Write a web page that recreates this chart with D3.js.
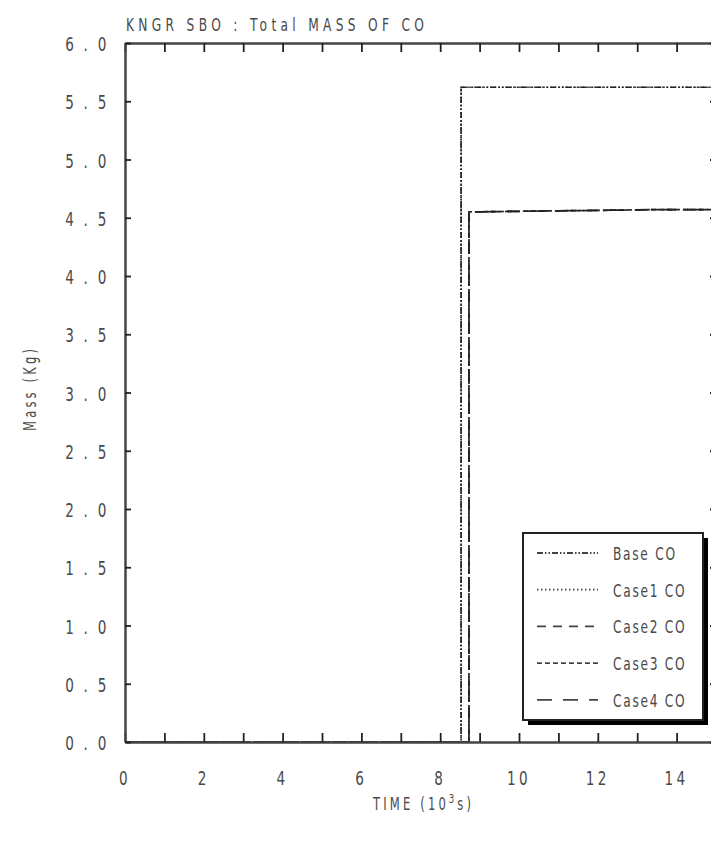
<!DOCTYPE html>
<html>
<head>
<meta charset="utf-8">
<script src="https://cdn.jsdelivr.net/npm/d3@7"></script>
<style>
  html, body { margin: 0; padding: 0; background: #fff; }
  svg { display: block; }
  text { font-family: "DejaVu Sans", "Liberation Sans", sans-serif; fill: #4a4a4a; }
</style>
</head>
<body>
<svg id="chart" width="711" height="845"></svg>
<script>
// Total mass of CO (kg) versus time (10^3 s) for each case
const seriesNames = ["Base CO", "Case1 CO", "Case2 CO", "Case3 CO", "Case4 CO"];
const baseTime  = [0, 8.53, 8.53, 15];
const baseMass  = [0, 0, 5.62, 5.62];
const case1Time = [0, 8.53, 8.53, 15];
const case1Mass = [0, 0, 5.62, 5.62];
const case2Time = [0, 8.73, 8.73, 13.58, 15];
const case2Mass = [0, 0, 4.55, 4.57, 4.57];
const case3Time = [0, 8.73, 8.73, 13.58, 15];
const case3Mass = [0, 0, 4.55, 4.57, 4.57];
const case4Time = [0, 8.73, 8.73, 13.58, 15];
const case4Mass = [0, 0, 4.55, 4.57, 4.57];
const xTickValues = [0, 2, 4, 6, 8, 10, 12, 14];
const yTickValues = [0, 0.5, 1, 1.5, 2, 2.5, 3, 3.5, 4, 4.5, 5, 5.5, 6];

const dashes = ["6,2,1.5,2,1.5,2", "1.5,2.5", "9,7", "5,3", "15,11"];

const svg = d3.select("#chart");
const mLeft = 125, mRight = 716, mTop = 43, mBottom = 742;
const x = d3.scaleLinear().domain([0, 15]).range([mLeft, mRight]);
const y = d3.scaleLinear().domain([0, 6]).range([mBottom, mTop]);

const series = [
  [baseTime, baseMass], [case1Time, case1Mass], [case2Time, case2Mass],
  [case3Time, case3Mass], [case4Time, case4Mass]
].map(([t, m], i) => ({ name: seriesNames[i], dash: dashes[i], pts: t.map((v, j) => [v, m[j]]) }));

const line = d3.line().x(d => x(d[0])).y(d => y(d[1]));

// data lines
svg.append("g").selectAll("path").data(series).join("path")
  .attr("d", d => line(d.pts))
  .attr("fill", "none")
  .attr("stroke", "#222")
  .attr("stroke-width", 1.7)
  .attr("stroke-dasharray", d => d.dash);

// frame axes: ticks every 1 (x) and 0.5 (y), pointing inward
const minorX = d3.range(0, 16, 1);
const axisStyle = g => {
  g.select(".domain").attr("stroke", "#444").attr("stroke-width", 2.5);
  g.selectAll(".tick line").attr("stroke", "#222").attr("stroke-width", 1.8);
};
svg.append("g").attr("transform", `translate(0,${mBottom})`)
  .call(d3.axisTop(x).tickValues(minorX).tickSize(9).tickFormat("").tickSizeOuter(0))
  .call(axisStyle);
svg.append("g").attr("transform", `translate(0,${mTop})`)
  .call(d3.axisBottom(x).tickValues(minorX).tickSize(9).tickFormat("").tickSizeOuter(0))
  .call(axisStyle);
svg.append("g").attr("transform", `translate(${mLeft},0)`)
  .call(d3.axisRight(y).tickValues(yTickValues).tickSize(6).tickFormat("").tickSizeOuter(0))
  .call(axisStyle);
svg.append("g").attr("transform", `translate(${mRight},0)`)
  .call(d3.axisLeft(y).tickValues(yTickValues).tickSize(6).tickFormat("").tickSizeOuter(0))
  .call(axisStyle);

// narrow plotter-style lettering: text squeezed horizontally
const sx = 0.68;

// tick labels
svg.append("g").selectAll("text").data(xTickValues).join("text")
  .attr("transform", d => `translate(${x(d)},785) scale(${sx},1)`)
  .attr("text-anchor", "middle")
  .style("font-size", "20px")
  .style("letter-spacing", "5px")
  .text(d => d);
svg.append("g").selectAll("text").data(yTickValues).join("text")
  .attr("transform", d => `translate(${109},${y(d) + 8}) scale(${sx},1)`)
  .attr("text-anchor", "end")
  .style("font-size", "20px")
  .style("letter-spacing", "4px")
  .text(d => d3.format(".1f")(d).replace(".", " . "));

// titles
svg.append("text").attr("transform", `translate(126,31) scale(${sx},1)`)
  .attr("textLength", 298 / sx).attr("lengthAdjust", "spacing")
  .style("font-size", "18px").text("KNGR SBO : Total MASS OF CO");
svg.append("text").attr("transform", `translate(36,390) rotate(-90) scale(${sx},1)`)
  .attr("text-anchor", "middle").style("font-size", "17px")
  .attr("textLength", 82 / sx).attr("lengthAdjust", "spacing")
  .text("Mass  (Kg)");
const xl = svg.append("text").attr("transform", `translate(373,810) scale(${sx},1)`)
  .attr("textLength", 98 / sx).attr("lengthAdjust", "spacing")
  .style("font-size", "17px");
xl.append("tspan").text("TIME  (10");
xl.append("tspan").attr("dy", -7).style("font-size", "12px").text("3");
xl.append("tspan").attr("dy", 7).text("s)");

// legend with drop shadow
const lg = svg.append("g");
const lx = 523, ly = 533, lw = 180, lh = 187;
lg.append("rect").attr("x", lx + 5).attr("y", ly + 5).attr("width", lw).attr("height", lh).attr("fill", "#000");
lg.append("rect").attr("x", lx).attr("y", ly).attr("width", lw).attr("height", lh)
  .attr("fill", "#fff").attr("stroke", "#222").attr("stroke-width", 2);
const rows = lg.selectAll("g.row").data(series).join("g")
  .attr("transform", (d, i) => `translate(0,${553 + i * 36.7})`);
rows.append("line").attr("x1", 537).attr("x2", 598)
  .attr("stroke", "#444").attr("stroke-width", 1.8)
  .attr("stroke-dasharray", d => d.dash);
rows.append("text").attr("transform", `translate(613,7) scale(${sx},1)`)
  .style("font-size", "18px").style("letter-spacing", "2.5px")
  .text(d => d.name.replace(" ", "  "));
</script>
</body>
</html>
